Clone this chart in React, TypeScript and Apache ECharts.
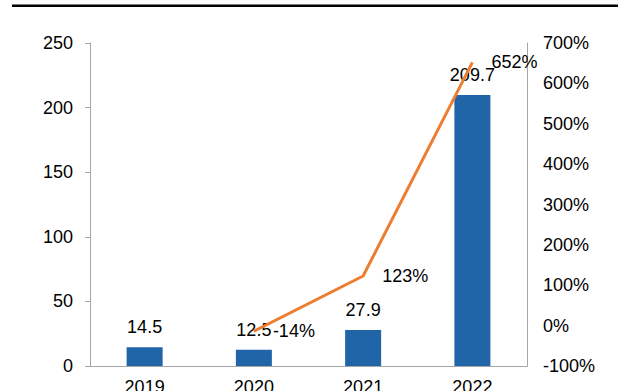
import React, { useEffect, useRef } from "react";
import * as echarts from "echarts";

const categories = ["2019", "2020", "2021", "2022"];
const barValues = [14.5, 12.5, 27.9, 209.7];
const growthValues: (number | null)[] = [null, -14, 123, 652];
const leftTicks = [0, 50, 100, 150, 200, 250];
const rightTicks = [-100, 0, 100, 200, 300, 400, 500, 600, 700];

export default function App() {
  const ref = useRef<HTMLDivElement>(null);
  useEffect(() => {
    if (!ref.current) return;
    const chart = echarts.init(ref.current, null, { renderer: "svg" });
    const font = "Liberation Sans, Arial, sans-serif";
    chart.setOption({
      animation: false,
      backgroundColor: "#ffffff",
      textStyle: { fontFamily: font },
      graphic: [
        {
          type: "rect",
          shape: { x: 12, y: 4.5, width: 606, height: 2.5 },
          style: { fill: "#000000" },
        },
      ],
      grid: {
        left: 90,
        right: 103,
        top: 43,
        bottom: 25,
        containLabel: false,
        outerBoundsMode: "none",
      },
      xAxis: {
        type: "category",
        data: categories,
        axisLine: { show: true, lineStyle: { color: "#a6a6a6", width: 1 } },
        axisTick: { show: false },
        axisLabel: { color: "#000", fontSize: 18, margin: 12, fontFamily: font },
      },
      yAxis: [
        {
          type: "value",
          min: leftTicks[0],
          max: leftTicks[leftTicks.length - 1],
          interval: 50,
          axisLine: { show: true, lineStyle: { color: "#a6a6a6", width: 1 } },
          axisTick: { show: true, length: 5, lineStyle: { color: "#a6a6a6" } },
          splitLine: { show: false },
          axisLabel: { color: "#000", fontSize: 18, margin: 17, fontFamily: font },
        },
        {
          type: "value",
          min: rightTicks[0],
          max: rightTicks[rightTicks.length - 1],
          interval: 100,
          position: "right",
          axisLine: { show: true, lineStyle: { color: "#a6a6a6", width: 1 } },
          axisTick: { show: false },
          splitLine: { show: false },
          axisLabel: {
            color: "#000",
            fontSize: 18,
            margin: 16,
            fontFamily: font,
            formatter: (v: number) => v + "%",
          },
        },
      ],
      series: [
        {
          type: "bar",
          data: barValues,
          barWidth: 36,
          itemStyle: { color: "#1f65a8" },
          label: {
            show: true,
            position: "top",
            distance: 11,
            color: "#000",
            fontSize: 18,
            fontFamily: font,
          },
        },
        {
          type: "line",
          yAxisIndex: 1,
          data: growthValues,
          showSymbol: true,
          symbol: "circle",
          symbolSize: 0,
          lineStyle: { color: "#ed7d31", width: 3 },
          itemStyle: { color: "#ed7d31" },
          label: {
            show: true,
            position: "right",
            distance: 19,
            color: "#000",
            fontSize: 18,
            fontFamily: font,
            formatter: (p: any) => p.value + "%",
          },
          labelLayout: { hideOverlap: false },
        },
      ],
    });
    return () => chart.dispose();
  }, []);
  return (
    <div
      ref={ref}
      style={{ position: "fixed", left: 0, top: 0, width: 630, height: 391 }}
    />
  );
}
